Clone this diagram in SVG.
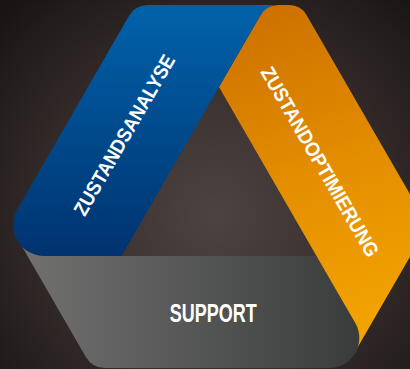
<svg xmlns="http://www.w3.org/2000/svg" width="410" height="369" viewBox="0 0 410 369">
  <defs>
    <radialGradient id="bg" gradientUnits="userSpaceOnUse" cx="215" cy="215" r="290">
      <stop offset="0" stop-color="#4d4341"/>
      <stop offset="0.55" stop-color="#362d2c"/>
      <stop offset="1" stop-color="#1a1515"/>
    </radialGradient>
    <linearGradient id="gBlue" gradientUnits="userSpaceOnUse" x1="0" y1="5" x2="0" y2="256">
      <stop offset="0" stop-color="#0062aa"/>
      <stop offset="1" stop-color="#00336f"/>
    </linearGradient>
    <linearGradient id="gOrange" gradientUnits="userSpaceOnUse" x1="275" y1="5" x2="385" y2="335">
      <stop offset="0" stop-color="#cd7100"/>
      <stop offset="0.5" stop-color="#e48e00"/>
      <stop offset="1" stop-color="#f4a500"/>
    </linearGradient>
    <linearGradient id="gGray" gradientUnits="userSpaceOnUse" x1="20" y1="0" x2="360" y2="0">
      <stop offset="0" stop-color="#717170"/>
      <stop offset="1" stop-color="#3a3c3c"/>
    </linearGradient>
    <style>
      .lbl { font-family: "Liberation Sans Narrow", "Liberation Sans", Arial, sans-serif; font-weight: bold; fill: #ffffff; text-anchor: middle; }
    </style>
  </defs>

  <rect x="0" y="0" width="410" height="369" fill="url(#bg)"/>

  <g id="zustandoptimierung">
    <path d="M 277.8,5 L 289.2,5 A 20 20 0 0 1 306.5,15 L 428,225.5 L 356.1,350 L 330,350 L 316.5,256 L 219,87 L 260.6,15 A 20 20 0 0 1 277.8,5 Z" fill="url(#gOrange)"/>
    <text class="lbl" font-size="20" textLength="216" lengthAdjust="spacingAndGlyphs" transform="translate(313.9,165.2) rotate(60)">ZUSTANDOPTIMIERUNG</text>
  </g>

  <g id="support">
    <path d="M 15.4,235 L 60,235 L 60,256 L 316.5,256 L 355.3,323 A 30 30 0 0 1 329.3,368 L 104.9,368 A 22 22 0 0 1 85.85,357 L 15.4,235 Z" fill="url(#gGray)"/>
    <text class="lbl" x="213.3" y="321.7" font-size="25" textLength="87" lengthAdjust="spacingAndGlyphs">SUPPORT</text>
  </g>

  <g id="zustandsanalyse">
    <path d="M 148,5 L 277.8,5 A 20 20 0 0 0 260.6,15 L 219,87 L 121.5,256 L 44.1,256 A 31 31 0 0 1 17.25,209.5 L 128.95,16 A 22 22 0 0 1 148,5 Z" fill="url(#gBlue)"/>
    <text class="lbl" font-size="20" textLength="182" lengthAdjust="spacingAndGlyphs" transform="translate(130.3,138.5) rotate(-60)">ZUSTANDSANALYSE</text>
  </g>
</svg>
